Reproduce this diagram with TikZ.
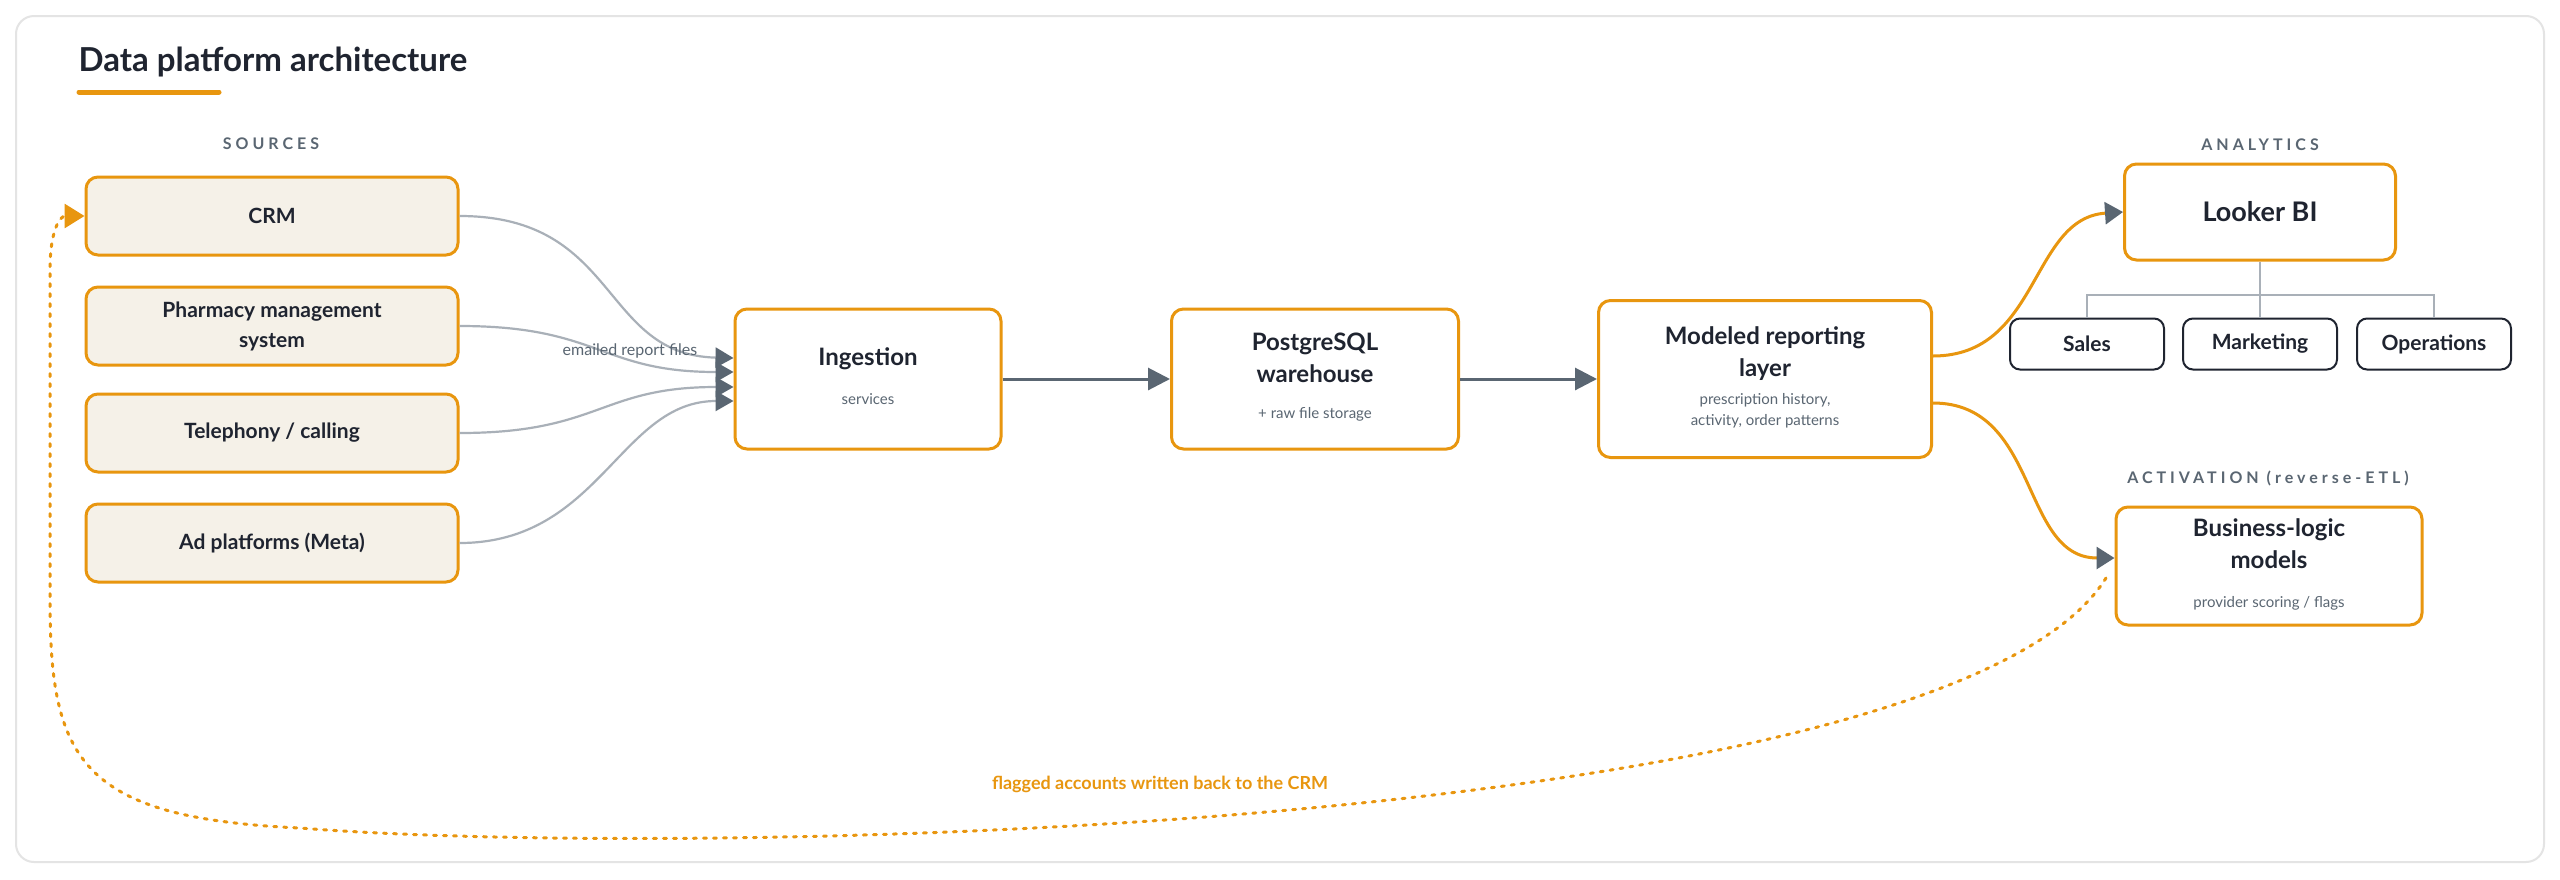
\documentclass[tikz,border=0pt]{standalone}
\usepackage{fontspec}
\setmainfont{Lato}
\usetikzlibrary{arrows.meta}
\definecolor{org}{HTML}{E8960F}
\definecolor{cream}{HTML}{F5F1E8}
\definecolor{ink}{HTML}{1F2430}
\definecolor{slate}{HTML}{5A6672}
\definecolor{lgray}{HTML}{A9B0B8}
\definecolor{frame}{HTML}{E4E4E4}
\newcommand\subtxt[1]{{\fontsize{15}{21}\selectfont\mdseries\color{slate}\begin{tabular}{@{}c@{}}#1\end{tabular}}}
\begin{document}
\begin{tikzpicture}[x=1pt,y=-1pt,
  box/.style={draw=org,line width=3pt,rounded corners=12pt,fill=white,align=center,text=ink,inner sep=0pt},
  src/.style={box,fill=cream,minimum width=372pt,minimum height=78pt,font=\fontsize{21}{30}\selectfont\bfseries},
  main/.style={box,font=\fontsize{24}{32}\selectfont\bfseries},
  hdr/.style={font=\fontsize{16}{18}\selectfont\bfseries\addfontfeature{LetterSpace=25},text=slate},
  team/.style={draw=ink,line width=2pt,rounded corners=10pt,minimum width=154pt,minimum height=51pt,font=\fontsize{21}{24}\selectfont\bfseries,text=ink},
  garr/.style={draw=lgray,line width=2.2pt,-{Triangle[length=18pt,width=20pt,fill=slate,color=slate]}},
  oarr/.style={draw=org,line width=3pt,-{Triangle[length=18pt,width=22pt,fill=slate,color=slate]}},
  sarr/.style={draw=slate,line width=3pt,-{Triangle[length=22pt,width=22pt]}}]
\useasboundingbox (0,0) rectangle (2560,879);
\fill[white] (0,0) rectangle (2560,879);
\draw[frame,line width=2pt,rounded corners=18pt,fill=white] (16,16) rectangle (2544,862);
\node[anchor=west,font=\fontsize{33}{36}\selectfont\bfseries,text=ink] (title) at (75,62) {Data platform architecture};
\draw[org,line width=5pt,line cap=round] (79,92) -- (219,92);
\node[hdr] (hsrc) at (271,144) {SOURCES};
\node[hdr] (hana) at (2260,145) {ANALYTICS};
\node[hdr] (hact) at (2268,478) {ACTIVATION (reverse-ETL)};
\node[src] (crm) at (272,216) {CRM};
\node[src] (pms) at (272,326) {Pharmacy management\\system};
\node[src] (tel) at (272,433) {Telephony / calling};
\node[src] (ad) at (272,543) {Ad platforms (Meta)};
\node[main,minimum width=266pt,minimum height=140pt] (ing) at (868,379) {Ingestion\\[6pt]\subtxt{services}};
\node[main,minimum width=287pt,minimum height=140pt] (pg) at (1315,379) {PostgreSQL\\warehouse\\[4pt]\subtxt{+ raw file storage}};
\node[main,minimum width=333pt,minimum height=157pt] (mod) at (1765,379) {Modeled reporting\\layer\\[6pt]\subtxt{prescription history,\\activity, order patterns}};
\node[main,minimum width=271pt,minimum height=96pt,font=\fontsize{27}{32}\selectfont\bfseries] (look) at (2260,212) {Looker BI};
\node[main,minimum width=306pt,minimum height=118pt] (biz) at (2269,566) {Business-logic\\models\\[6pt]\subtxt{provider scoring / flags}};
\node[team] (sales) at (2087,344) {Sales};
\node[team] (mkt) at (2260,344) {Marketing};
\node[team] (ops) at (2434,344) {Operations};
\coordinate (tj) at (2260,295);
\draw[lgray,line width=2pt] (look.south) -- (tj) (sales.north) |- (tj) -| (ops.north) (tj) -- (mkt.north);
\draw[garr] (crm.east) .. controls (620,216) and (600,355) .. (ing.west|-0,358);
\draw[garr] (pms.east) .. controls (600,326) and (600,372) .. (ing.west|-0,372);
\draw[garr] (tel.east) .. controls (600,433) and (600,387) .. (ing.west|-0,387);
\draw[garr] (ad.east) .. controls (600,543) and (620,401) .. (ing.west|-0,401);
\node[font=\fontsize{16}{18}\selectfont,text=slate] (eml) at (630,351) {emailed report files};
\draw[sarr] (ing) -- (pg);
\draw[sarr] (pg) -- (mod);
\draw[oarr] (mod.east|-0,356) .. controls (2040,356) and (2030,218) .. (look.west);
\draw[oarr] (mod.east|-0,403) .. controls (2040,403) and (2020,558) .. (biz.west|-0,558);
\coordinate (fb) at (2106,578);
\draw[org,line width=3pt,dash pattern=on 3pt off 7pt,line cap=round,-{Triangle[length=20pt,width=24pt]}] (fb) .. controls (1950,830) and (700,860) .. (300,828) .. controls (80,818) and (50,760) .. (50,600) -- (50,270) .. controls (50,230) and (60,216) .. (crm.west);
\node[font=\fontsize{18}{20}\selectfont\bfseries,text=org] (fbl) at (1160,784) {flagged accounts written back to the CRM};
\end{tikzpicture}
\end{document}
